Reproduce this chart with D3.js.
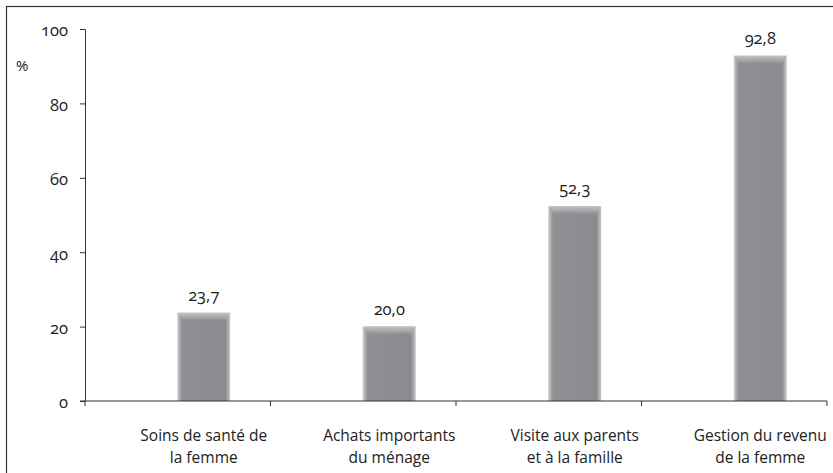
<!DOCTYPE html>
<html>
<head>
<meta charset="utf-8">
<script src="https://cdn.jsdelivr.net/npm/d3@7"></script>
<style>
  body { margin:0; background:#fff; }
  text { font-family:"Open Sans","Noto Sans",sans-serif; fill:#222; font-variant-numeric:oldstyle-nums; font-feature-settings:"onum"; }
</style>
</head>
<body>
<div id="chart"></div>
<script>
let categories = [["Soins de santé de","la femme"],["Achats importants","du ménage"],["Visite aux parents","et à la famille"],["Gestion du revenu","de la femme"]];
let values = [23.7, 20.0, 52.3, 92.8];
let yTicks = [0, 20, 40, 60, 80, 100];

let screen = {width:833, height:473};
let margin = {top:29, right:6, bottom:72, left:85};

let svg = d3.select("#chart").append("svg")
    .attr("width", screen.width)
    .attr("height", screen.height);

// outer frame (runs off the right and bottom edge like in the picture)
svg.append("rect")
    .attr("x", 6.5).attr("y", 6.5)
    .attr("width", 840).attr("height", 480)
    .attr("fill", "none").attr("stroke", "#333").attr("stroke-width", 1.2);

let xScale = d3.scaleBand()
    .domain(d3.range(categories.length))
    .range([margin.left, screen.width - margin.right]);
let yScale = d3.scaleLinear()
    .domain([0, 100])
    .range([screen.height - margin.bottom, margin.top]);

let barW = 53;
let shift = 26; // bars sit right of the band middle in the original
let cx = function(i){ return xScale(i) + xScale.bandwidth()/2 + shift; };

let defs = svg.append("defs");
let g1 = defs.append("linearGradient").attr("id","body").attr("x1",0).attr("x2",1).attr("y1",0).attr("y2",0);
g1.append("stop").attr("offset","0%").attr("stop-color","#d0d0d2");
g1.append("stop").attr("offset","9%").attr("stop-color","#8f9093");
g1.append("stop").attr("offset","91%").attr("stop-color","#8a8b8e");
g1.append("stop").attr("offset","100%").attr("stop-color","#cacacc");
let g2 = defs.append("linearGradient").attr("id","top").attr("x1",0).attr("x2",0).attr("y1",0).attr("y2",1);
g2.append("stop").attr("offset","0%").attr("stop-color","#c2c2c4");
g2.append("stop").attr("offset","100%").attr("stop-color","#8d8e91");

let chart = svg.append("g");

let bars = chart.selectAll("g.bar")
    .data(values)
    .enter()
    .append("g").attr("class","bar");

bars.append("rect")
    .attr("x", function(d,i){ return cx(i) - barW/2; })
    .attr("y", function(d){ return yScale(d); })
    .attr("width", barW)
    .attr("height", function(d){ return yScale(0) - yScale(d); })
    .attr("fill", "url(#body)");

bars.append("path")
    .attr("d", function(d,i){
        let x0 = cx(i) - barW/2, x1 = cx(i) + barW/2, y = yScale(d);
        return "M"+x0+","+y+"L"+x1+","+y+"L"+(x1-5)+","+(y+8)+"L"+(x0+5)+","+(y+8)+"Z";
    })
    .attr("fill", "url(#top)");

bars.append("text")
    .attr("x", function(d,i){ return cx(i); })
    .attr("y", function(d){ return yScale(d) - 12; })
    .attr("text-anchor", "middle")
    .attr("font-size", 16.5)
    .text(function(d){ return d.toFixed(1).replace(".", ","); });

// y axis
let yAxis = chart.append("g")
    .attr("transform", "translate(" + margin.left + ",0)")
    .call(d3.axisLeft(yScale).tickValues(yTicks).tickSize(5).tickPadding(12));
yAxis.select(".domain").attr("stroke", "#333");
yAxis.selectAll(".tick line").attr("stroke", "#333");
yAxis.selectAll(".tick text").attr("font-size", 16.5).attr("fill", "#222").attr("dy", "0.42em");

svg.append("text")
    .attr("x", 16).attr("y", 71)
    .attr("font-size", 15)
    .text("%");

// x axis
let xAxis = chart.append("g")
    .attr("transform", "translate(0," + yScale(0) + ")");
xAxis.append("line")
    .attr("x1", margin.left - 5).attr("x2", screen.width - margin.right)
    .attr("stroke", "#333");
let bounds = d3.range(categories.length).map(function(i){ return xScale(i); }).concat([xScale.range()[1]]);
xAxis.selectAll("line.tk")
    .data(bounds)
    .enter().append("line").attr("class","tk")
    .attr("x1", function(d){ return d; }).attr("x2", function(d){ return d; })
    .attr("y1", 0).attr("y2", 5)
    .attr("stroke", "#333");

let labels = xAxis.selectAll("text.cat")
    .data(categories)
    .enter().append("text").attr("class","cat")
    .attr("text-anchor", "middle")
    .attr("font-size", 15.5);
labels.each(function(d,i){
    let t = d3.select(this);
    d.forEach(function(line,k){
        t.append("tspan").attr("x", cx(i)).attr("y", 40 + k*22).text(line);
    });
});
</script>
</body>
</html>
